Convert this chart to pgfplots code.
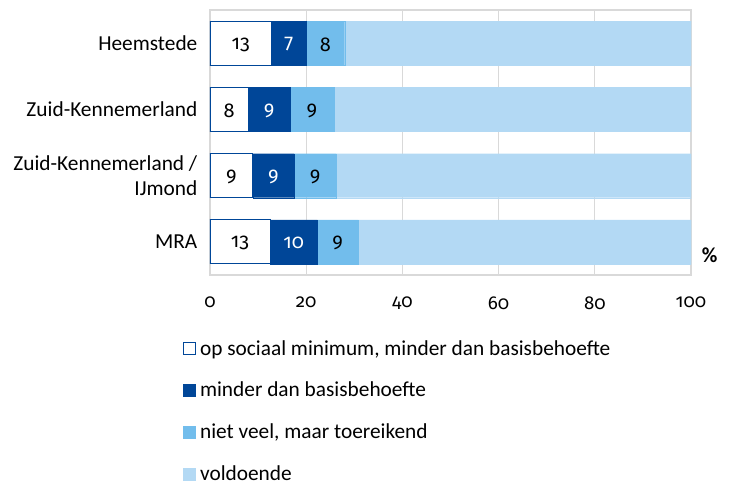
\documentclass[border=0pt]{standalone}
\usepackage{pgfplots}
\pgfplotsset{compat=1.18}
\usepackage{fontspec}
\setmainfont{Carlito}
\newfontfamily\numfont{Fira Sans}[Numbers=OldStyle]
\definecolor{dblue}{RGB}{0,70,152}
\definecolor{mblue}{RGB}{114,189,236}
\definecolor{lblue}{RGB}{179,217,244}
\definecolor{gridc}{RGB}{217,217,217}
\begin{document}
\begin{tikzpicture}[font=\fontsize{16}{19}\selectfont]
\useasboundingbox (-157.5pt,-156.75pt) rectangle (389.25pt,206.25pt);
\begin{axis}[
  name=ax,
  scale only axis,
  width=360.75pt, height=198.75pt,
  xbar stacked, bar width=33pt,
  xmin=0, xmax=100, ymin=-0.5, ymax=3.5,
  y dir=reverse,
  ytick={0,1,2,3},
  yticklabels={Heemstede,Zuid-Kennemerland,{Zuid-Kennemerland /\\IJmond},MRA},
  yticklabel style={align=right, xshift=-6pt},
  xtick={0,20,40,60,80,100},
  xticklabel style={yshift=-13pt, font=\numfont\fontsize{14}{17}\selectfont},
  /pgf/number format/assume math mode=true,
  major tick length=0pt,
  xmajorgrids, grid style={gridc, line width=0.8pt},
  axis line style={gridc, line width=0.8pt},
  point meta=explicit symbolic,
  every node near coord/.append style={yshift=-1pt},
  legend cell align=left,
  legend style={draw=none, fill=none, at={(rel axis cs:-0.065,-0.225)}, anchor=north west, row sep=14.8pt,
    nodes={inner xsep=3pt}},
  legend image code/.code={\draw[#1] (0pt,-4.5pt) rectangle (9pt,4.5pt);},
]
\addplot[fill=white, draw=dblue, line width=0.8pt, nodes near coords={\numfont\fontsize{15}{18}\selectfont\pgfplotspointmeta}, nodes near coords style={text=black}]
  coordinates {(12.8,0) [13] (8.0,1) [8] (8.9,2) [9] (12.5,3) [13]};
\addlegendentry{op sociaal minimum, minder dan basisbehoefte}
\addplot[fill=dblue, draw=dblue, line width=0.1pt, nodes near coords={\numfont\fontsize{15}{18}\selectfont\pgfplotspointmeta}, nodes near coords style={text=white}]
  coordinates {(7.2,0) [7] (8.6,1) [9] (8.6,2) [9] (9.8,3) [10]};
\addlegendentry{minder dan basisbehoefte}
\addplot[fill=mblue, draw=mblue, line width=0.1pt, nodes near coords={\numfont\fontsize{15}{18}\selectfont\pgfplotspointmeta}, nodes near coords style={text=black}]
  coordinates {(8.0,0) [8] (9.2,1) [9] (8.7,2) [9] (8.5,3) [9]};
\addlegendentry{niet veel, maar toereikend}
\addplot[fill=lblue, draw=lblue, line width=0.1pt]
  coordinates {(72.0,0) [] (74.2,1) [] (73.8,2) [] (69.2,3) []};
\addlegendentry{voldoende}
\end{axis}
\node[font=\fontsize{16}{19}\selectfont\bfseries] at ([xshift=14pt,yshift=15pt]ax.south east) {\%};
\end{tikzpicture}
\end{document}
